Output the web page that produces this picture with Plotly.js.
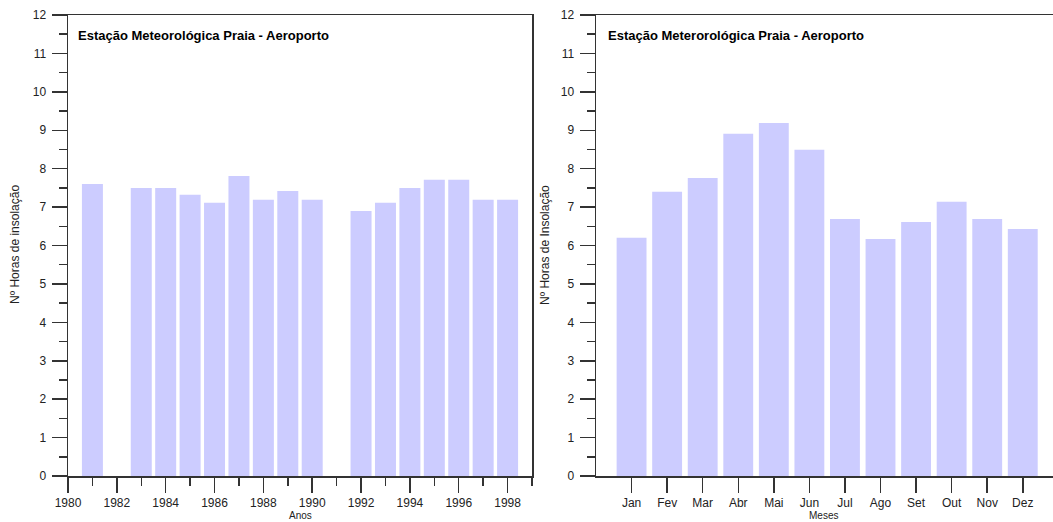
<!DOCTYPE html>
<html>
<head>
<meta charset="utf-8">
<script src="https://cdn.plot.ly/plotly-3.0.1.min.js"></script>
<style>html,body{margin:0;padding:0;background:#fff;}#chart{width:1053px;height:522px;}</style>
</head>
<body>
<div id="chart"></div>
<script>
// Annual mean (left chart)
const years = [1981, 1983, 1984, 1985, 1986, 1987, 1988, 1989, 1990, 1992, 1993, 1994, 1995, 1996, 1997, 1998];
const yearValues = [7.6, 7.5, 7.5, 7.32, 7.11, 7.81, 7.19, 7.42, 7.19, 6.9, 7.11, 7.5, 7.71, 7.71, 7.19, 7.19];

// Monthly mean (right chart)
const monthIndex = [1, 2, 3, 4, 5, 6, 7, 8, 9, 10, 11, 12];
const monthLabels = ["Jan", "Fev", "Mar", "Abr", "Mai", "Jun", "Jul", "Ago", "Set", "Out", "Nov", "Dez"];
const monthValues = [6.2, 7.4, 7.76, 8.91, 9.19, 8.49, 6.69, 6.17, 6.61, 7.14, 6.69, 6.43];

const titleLeft = "Estação Meteorológica Praia - Aeroporto";
const titleRight = "Estação Meterorológica Praia - Aeroporto";

const W = 1053, H = 522;
const px = x => x / W;
const py = y => (H - y) / H;

const barColor = "#CCCCFF";
const axisColor = "#333333";
const FAM = "Liberation Sans, Arial, sans-serif";
const font = {family: FAM, size: 12, color: "#222"};

const yAxisCommon = {
  range: [0, 12],
  dtick: 1,
  tick0: 0,
  ticks: "outside",
  ticklen: 15,
  tickwidth: 1.5,
  tickcolor: axisColor,
  ticklabelstandoff: 3,
  minor: {dtick: 0.5, ticks: "outside", ticklen: 8, tickwidth: 1.5, tickcolor: axisColor},
  showline: true,
  linecolor: axisColor,
  linewidth: 1.5,
  showgrid: false,
  zeroline: false,
  fixedrange: true,
  tickfont: font,
  automargin: false
};

const data = [
  {type: "bar", x: years, y: yearValues, xaxis: "x", yaxis: "y",
   marker: {color: barColor, line: {width: 0}}, width: 0.86, hoverinfo: "x+y"},
  {type: "bar", x: monthIndex, y: monthValues, xaxis: "x2", yaxis: "y2",
   marker: {color: barColor, line: {width: 0}}, width: 0.84, hoverinfo: "y"}
];

const layout = {
  width: W, height: H,
  margin: {l: 0, r: 0, t: 0, b: 0},
  paper_bgcolor: "#fff",
  plot_bgcolor: "#fff",
  showlegend: false,
  font: font,
  xaxis: {
    domain: [px(68), px(532)],
    anchor: "y",
    range: [1980, 1999],
    tick0: 1980, dtick: 2,
    ticks: "outside", ticklen: 15, tickwidth: 1.5, tickcolor: axisColor,
    ticklabelstandoff: 0,
    minor: {dtick: 1, tick0: 1980, ticks: "outside", ticklen: 8, tickwidth: 1.5, tickcolor: axisColor},
    showline: true, linecolor: axisColor, linewidth: 1.5, mirror: true,
    showgrid: false, zeroline: false, fixedrange: true,
    tickfont: font, automargin: false
  },
  yaxis: Object.assign({}, yAxisCommon, {domain: [py(476), py(15)], anchor: "x", mirror: true}),
  xaxis2: {
    domain: [px(596), 1],
    anchor: "y2",
    range: [0, 12.85],
    tickvals: monthIndex,
    ticktext: monthLabels,
    ticks: "outside", ticklen: 15, tickwidth: 1.5, tickcolor: axisColor,
    ticklabelstandoff: 0,
    showline: true, linecolor: axisColor, linewidth: 1.5, mirror: true,
    showgrid: false, zeroline: false, fixedrange: true,
    tickfont: font, automargin: false
  },
  yaxis2: Object.assign({}, yAxisCommon, {domain: [py(476), py(15)], anchor: "x2", mirror: false}),
  annotations: [
    {text: "<b>" + titleLeft + "</b>", xref: "paper", yref: "paper", x: px(76), y: py(35),
     xanchor: "left", yanchor: "middle", showarrow: false,
     font: {family: FAM, size: 13, color: "#000"}},
    {text: "<b>" + titleRight + "</b>", xref: "paper", yref: "paper", x: px(606), y: py(35),
     xanchor: "left", yanchor: "middle", showarrow: false,
     font: {family: FAM, size: 13, color: "#000"}},
    {text: "Nº Horas de insolação", xref: "paper", yref: "paper", x: px(15), y: py(245),
     xanchor: "center", yanchor: "middle", textangle: -90, showarrow: false,
     font: {family: FAM, size: 12, color: "#222"}},
    {text: "Nº Horas de Insolação", xref: "paper", yref: "paper", x: px(545), y: py(245),
     xanchor: "center", yanchor: "middle", textangle: -90, showarrow: false,
     font: {family: FAM, size: 12, color: "#222"}},
    {text: "Anos", xref: "paper", yref: "paper", x: px(300), y: 0,
     xanchor: "center", yanchor: "bottom", showarrow: false, borderpad: 0,
     font: {family: FAM, size: 10, color: "#222"}},
    {text: "Meses", xref: "paper", yref: "paper", x: px(823), y: 0,
     xanchor: "center", yanchor: "bottom", showarrow: false, borderpad: 0,
     font: {family: FAM, size: 10, color: "#222"}}
  ]
};

Plotly.newPlot("chart", data, layout, {displayModeBar: false, staticPlot: true});
</script>
</body>
</html>
